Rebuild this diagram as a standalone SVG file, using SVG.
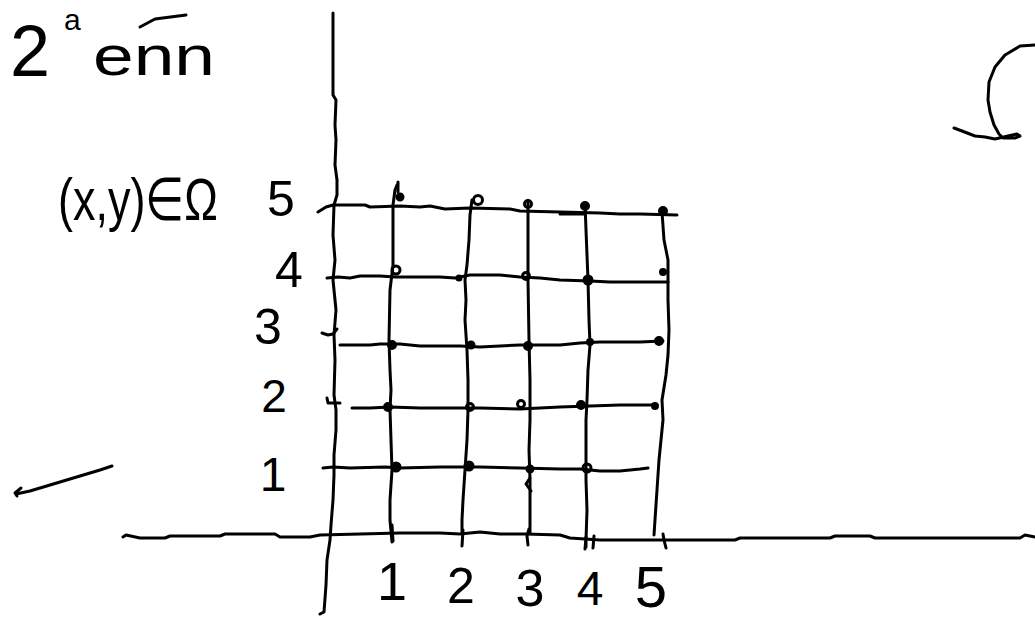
<svg xmlns="http://www.w3.org/2000/svg" width="1035" height="618" viewBox="0 0 1035 618">
<style>
.s{fill:none;stroke:#000;stroke-width:3;stroke-linecap:round;stroke-linejoin:round}
.t{font-family:"Liberation Sans",Arial,sans-serif;fill:#000}
.d{fill:#000;stroke:#000;stroke-width:2}
.o{fill:none;stroke:#000;stroke-width:3}
</style>
<rect width="1035" height="618" fill="#fff"/>
<g id="axes">
<path class="s" d="M333,13 L333,95 L336,100 L335,125 L336,140 L335,165 L337,180 L337,195 L334,205 L333,235 L335,260 L333,280 L336,310 L334,335 L335,360 L334,395 L336,410 L336,430 L334,455 L334,475 L333,500 L331,525 L330,540 L327,560 L326,585 L324,612 L320,614"/>
<path class="s" d="M123,537 L126,535 L140,538 L165,538 L170,536 L220,536 L225,534 L275,534 L280,537 L310,537 L320,535 L360,534 L400,533 L440,533 L460,534 L480,532 L500,534 L525,534 L560,535 L570,538 L600,540 L735,540 L740,538 L830,538 L835,536 L870,536 L875,538 L1020,538 L1025,535 L1035,537"/>
</g>
<g id="grid">
<path class="s" d="M318,212 L326,207 L333,205 L365,205 L370,207 L400,206 L420,207 L430,206 L445,209 L470,208 L510,209 L520,211 L560,212 L600,213 L620,214 L640,214 L677,215"/>
<path class="s" d="M560,214 L585,214"/>
<path class="s" d="M327,278 L338,277 L350,278 L360,276 L380,276 L395,277 L420,277 L440,277 L455,278 L470,275 L500,275 L510,276 L520,277 L540,278 L560,280 L590,281 L610,282 L640,282 L668,282"/>
<path class="s" d="M340,345 L370,345 L380,344 L400,344 L420,346 L460,346 L480,347 L520,345 L560,345 L580,343 L600,342 L640,342 L663,341"/>
<path class="s" d="M352,408 L370,408 L390,407 L420,408 L460,408 L480,408 L520,409 L560,407 L590,406 L620,405 L655,405"/>
<path class="s" d="M323,468 L333,467 L350,468 L385,467 L400,468 L440,467 L480,467 L520,468 L560,469 L580,469 L600,471 L620,471 L640,469 L648,468"/>
<path class="s" d="M397,185 L395,190 L393,205 L393,265 L390,290 L389,340 L390,370 L391,390 L390,410 L391,440 L392,470 L390,500 L390,520 L392,542"/>
<path class="s" d="M472,200 L470,215 L469,240 L467,265 L465,280 L466,300 L465,320 L467,350 L468,380 L468,410 L467,440 L465,470 L463,500 L462,520 L462,533"/>
<path class="s" d="M528,203 L528,280 L529,340 L530,380 L530,420 L529,450 L530,480 L530,533"/>
<path class="s" d="M585,203 L586,230 L588,280 L589,320 L590,345 L588,370 L587,400 L586,420 L586,450 L586,480 L587,510 L586,540 L586,547"/>
<path class="s" d="M662,212 L664,240 L668,260 L668,300 L669,330 L668,355 L666,375 L662,400 L663,420 L659,460 L657,490 L654,535"/>
</g>
<g id="ticks">
<path class="s" d="M392,525 L393,541"/>
<path class="s" d="M463,530 L462,546"/>
<path class="s" d="M529,529 L527,536 L528,545"/>
<path class="s" d="M586,537 L585,549"/>
<path class="s" d="M594,536 L593,548"/>
<path class="s" d="M663,534 L664,540 L666,548"/>
<path class="s" d="M322,333 L328,335 L333,334 L337,329"/>
<path class="s" d="M327,398 L328,403 L340,403"/>
<path class="s" d="M530,478 L526,484 L531,491"/>
</g>
<g id="points">
<path class="s" d="M398,182 L398,192"/>
<circle class="d" cx="400" cy="197" r="3.5"/>
<circle class="o" cx="478" cy="200" r="4.5"/>
<circle class="o" cx="528" cy="204" r="3.5"/>
<circle class="d" cx="585" cy="206" r="4"/>
<circle class="d" cx="663" cy="211" r="4"/>
<circle class="o" cx="396" cy="270" r="4"/>
<circle class="d" cx="459" cy="278" r="2.5"/>
<circle class="o" cx="526" cy="276" r="3.5"/>
<circle class="d" cx="588" cy="280" r="4.5"/>
<circle class="d" cx="663" cy="272" r="3"/>
<circle class="d" cx="392" cy="345" r="4"/>
<circle class="d" cx="471" cy="345" r="3.5"/>
<circle class="d" cx="528" cy="346" r="4"/>
<circle class="d" cx="590" cy="342" r="3"/>
<circle class="d" cx="659" cy="341" r="4"/>
<circle class="d" cx="388" cy="407" r="4"/>
<circle class="o" cx="470" cy="407" r="3.5"/>
<circle class="o" cx="521" cy="404" r="3.5"/>
<circle class="d" cx="581" cy="405" r="4"/>
<circle class="d" cx="655" cy="406" r="3"/>
<circle class="d" cx="396" cy="467" r="4.5"/>
<circle class="d" cx="469" cy="466" r="4.5"/>
<circle class="d" cx="530" cy="469" r="3.5"/>
<circle class="o" cx="587" cy="468" r="4"/>
</g>
<g id="y-labels">
<text class="t" x="281" y="216" font-size="50" text-anchor="middle">5</text>
<text class="t" x="289" y="287" font-size="50" text-anchor="middle">4</text>
<text class="t" x="268" y="344" font-size="50" text-anchor="middle">3</text>
<text class="t" x="274" y="412" font-size="46" text-anchor="middle">2</text>
<text class="t" x="273" y="491" font-size="48" text-anchor="middle">1</text>
</g>
<g id="x-labels">
<text class="t" x="392" y="600" font-size="54" text-anchor="middle">1</text>
<text class="t" x="461" y="603" font-size="50" text-anchor="middle">2</text>
<text class="t" x="530" y="606" font-size="52" text-anchor="middle">3</text>
<text class="t" x="590" y="605" font-size="48" text-anchor="middle">4</text>
<text class="t" x="651" y="607" font-size="58" text-anchor="middle">5</text>
</g>
<g id="title">
<text class="t" x="10" y="76" font-size="72">2</text>
<text class="t" x="64" y="30" font-size="30">a</text>
<text class="t" x="93" y="75" font-size="56" textLength="122" lengthAdjust="spacingAndGlyphs">enn</text>
<path class="s" d="M140,27 L155,19 L186,15"/>
</g>
<g id="domain-label">
<text class="t" x="58" y="176" font-size="48" textLength="160" lengthAdjust="spacingAndGlyphs" transform="scale(1,1.25)">(x,y)∈Ω</text>
</g>
<g id="arrow">
<path class="s" d="M112,466 L100,470 L80,476 L60,482 L40,488 L30,491 L16,494 M21,488 L15,493 L17,496"/>
</g>
<g id="omega">
<path class="s" d="M1035,45 L1020,46 L1005,55 L995,67 L989,82 L988,100 L990,112 L994,125 L999,134 L1003,138 L1015,138 L1020,136 L1017,134 L1008,136 L995,139 L985,137 L975,136 L962,131 L954,128"/>
</g>
</svg>
